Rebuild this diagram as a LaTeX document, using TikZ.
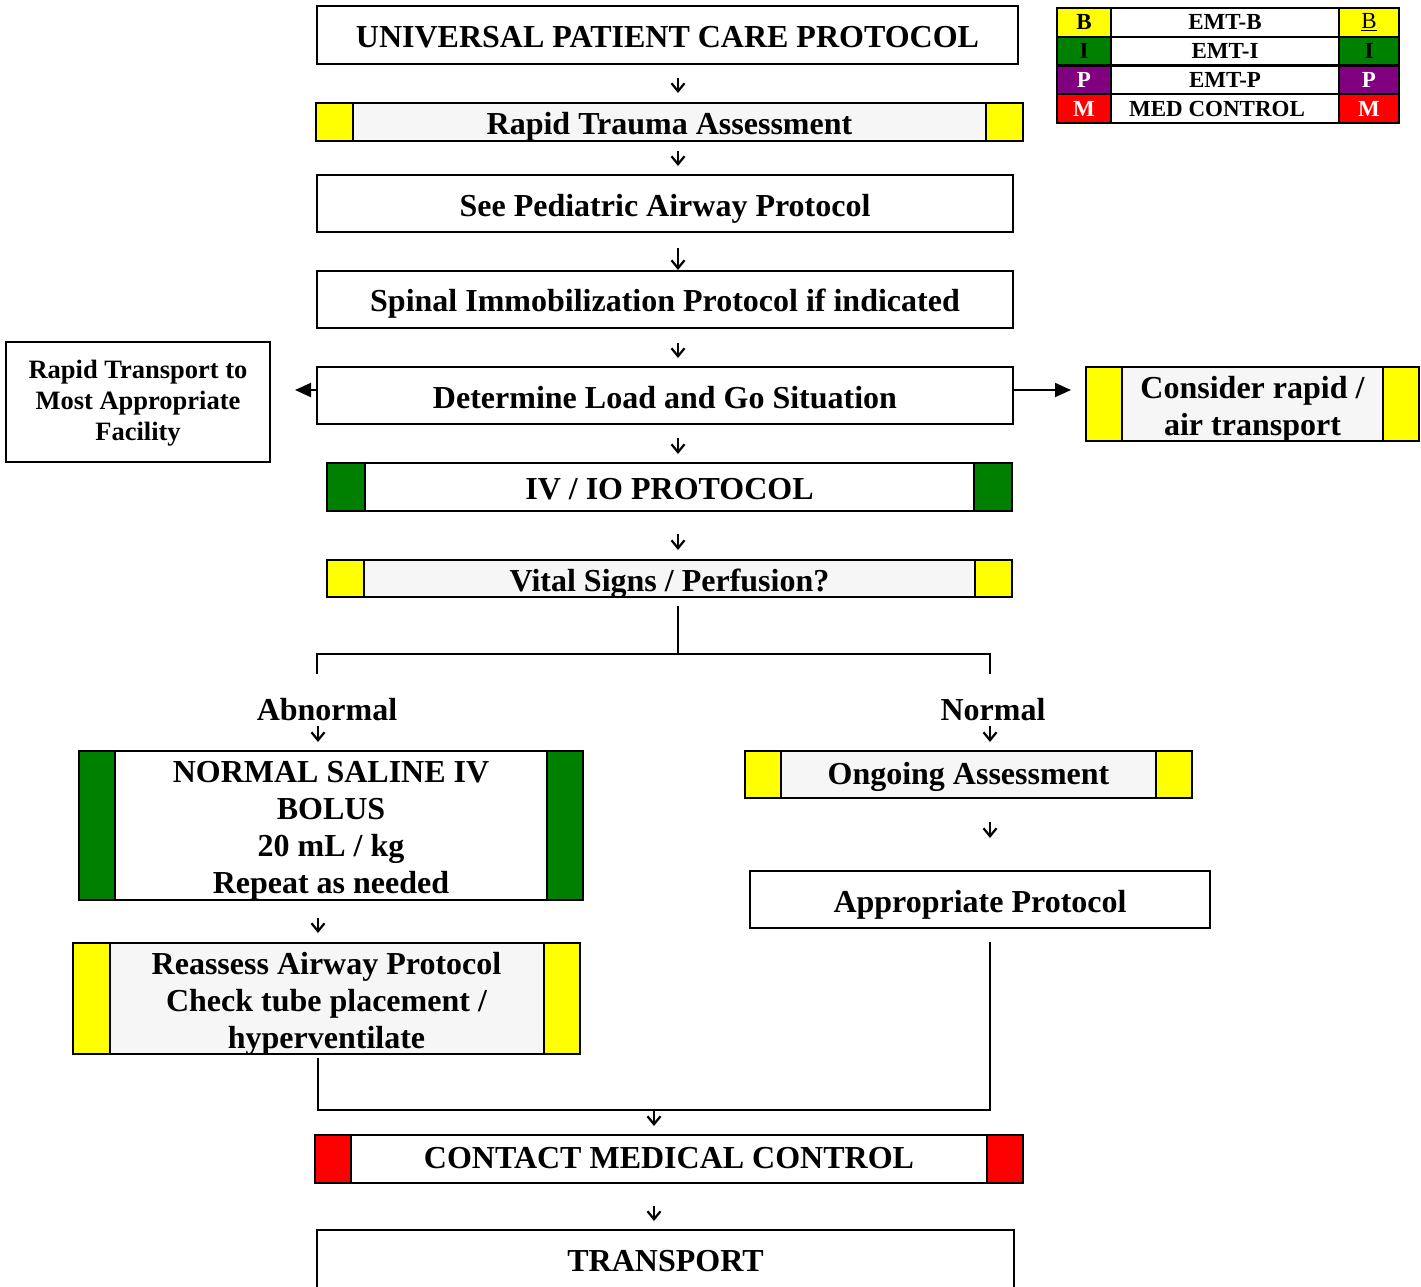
\documentclass[tikz,border=0pt]{standalone}
\usepackage{fontspec}
\setmainfont{Liberation Serif}
\usetikzlibrary{arrows.meta}
\definecolor{ylw}{RGB}{255,255,0}
\definecolor{grn}{RGB}{0,128,0}
\definecolor{prp}{RGB}{128,0,128}
\definecolor{rd}{RGB}{255,0,0}
\definecolor{lg}{RGB}{246,246,246}
\begin{document}
\begin{tikzpicture}[x=1pt,y=-1pt,
  box/.style={draw, line width=2pt, inner sep=0pt, align=center, font=\bfseries\fontsize{32}{37}\selectfont,
    text height=25pt, text depth=0pt},
  bands/.style 2 args={path picture={
    \fill[#1] (path picture bounding box.north west) rectangle ([xshift=#2]path picture bounding box.south west);
    \fill[#1] (path picture bounding box.north east) rectangle ([xshift=-#2]path picture bounding box.south east);
    \draw[line width=2pt] ([xshift=#2]path picture bounding box.north west) -- ([xshift=#2]path picture bounding box.south west);
    \draw[line width=2pt] ([xshift=-#2]path picture bounding box.north east) -- ([xshift=-#2]path picture bounding box.south east);
  }},
  lgcell/.style={draw, line width=2pt, inner sep=0pt, minimum height=28.75, font=\bfseries\fontsize{23}{26}\selectfont},
  lbl/.style={inner sep=0pt, font=\bfseries\fontsize{32}{37}\selectfont},
  darr/.style={line width=2pt, -{Straight Barb[length=8pt,width=13pt,line width=2.2pt]}},
  tarr/.style={line width=2pt, -{Triangle[length=16pt,width=14pt]}},
  plain/.style={line width=2pt}
]
\useasboundingbox (0,0) rectangle (1421,1287);

% main column
\node[box, minimum width=701, minimum height=58] (univ) at (667.5,35) {UNIVERSAL PATIENT CARE PROTOCOL};
\node[box, fill=lg, bands={ylw}{37}, minimum width=707, minimum height=38] (rta) at (669.5,122) {Rapid Trauma Assessment};
\node[box, minimum width=696, minimum height=57] (ped) at (665,203.5) {See Pediatric Airway Protocol};
\node[box, minimum width=696, minimum height=57, text height=24pt] (spinal) at (665,299.5) {Spinal Immobilization Protocol if indicated};
\node[box, minimum width=696, minimum height=57] (load) at (665,395.5) {Determine Load and Go Situation};
\node[box, line width=1.6pt, minimum width=264, minimum height=120, font=\bfseries\fontsize{26.5}{31}\selectfont,
  text height=76pt] (rapidT) at (138,402) {Rapid Transport to\\Most Appropriate\\Facility};
\node[box, fill=lg, bands={ylw}{36}, minimum width=333, minimum height=74, text height=62pt] (air) at (1252.5,404) {Consider rapid /\\air transport};
\node[box, bands={grn}{38}, minimum width=685, minimum height=48, text height=24pt] (iv) at (669.5,487) {IV / IO PROTOCOL};
\node[box, fill=lg, bands={ylw}{37}, minimum width=685, minimum height=37] (vital) at (669.5,578.5) {Vital Signs / Perfusion?};

\node[lbl] (abn) at (327,710) {Abnormal};
\node[lbl] (nor) at (993,710) {Normal};

\node[box, bands={grn}{36}, minimum width=504, minimum height=149, text height=135pt] (nsb) at (331,825.5) {NORMAL SALINE IV\\BOLUS\\20 mL / kg\\Repeat as needed};
\node[box, fill=lg, bands={ylw}{36}, minimum width=447, minimum height=47, text height=20pt] (ongo) at (968.5,774.5) {Ongoing Assessment};
\node[box, minimum width=460, minimum height=57] (approp) at (980,899.5) {Appropriate Protocol};
\node[box, fill=lg, bands={ylw}{36.5}, minimum width=507, minimum height=111, text height=99pt] (reas) at (326.5,998.5) {Reassess Airway Protocol\\Check tube placement /\\hyperventilate};
\node[box, bands={rd}{36}, minimum width=708, minimum height=48, text height=19pt] (cmc) at (669,1159) {CONTACT MEDICAL CONTROL};
\node[box, minimum width=697, minimum height=60, text height=23pt] (trans) at (665.5,1260) {TRANSPORT};

% legend
\foreach \i/\yy/\lt/\md/\rt/\cc/\tc in {1/22.4/B/EMT-B/\textmd{\underline{B}}/ylw/black, 2/51.1/I/EMT-I/I/grn/black, 3/79.9/P/EMT-P/P/prp/white, 4/108.6/M/MED CONTROL\hspace*{16pt}/M/rd/white}{
  \node[lgcell, fill=\cc, text=\tc, minimum width=54] (lgl\i) at (1084,\yy) {\lt};
  \node[lgcell, minimum width=228] (lgm\i) at (1225,\yy) {\md};
  \node[lgcell, fill=\cc, text=\tc, minimum width=60] (lgr\i) at (1369,\yy) {\rt};
}

% short downward arrows
\foreach \n/\xx/\ya/\yb in {1/678/78/93, 2/678/151/166, 4/678/343/358, 5/678/438/454, 6/678/534/550, 7/318/726/742, 8/990/726/742, 9/990/822/838, 10/318/918/933, 11/654/1111/1126, 12/654/1206/1221}{
  \coordinate (s\n) at (\xx,\ya);
  \coordinate (e\n) at (\xx,\yb);
  \draw[darr] (s\n) -- (e\n);
}
\coordinate (s3) at (678,248);
\draw[darr] (s3) -- (s3 |- spinal.north);

% side arrows
\coordinate (lt) at (295,390);
\coordinate (rt) at (1071,390);
\draw[tarr] (load.west |- lt) -- (lt);
\draw[tarr] (load.east |- rt) -- (rt);

% branch under vital signs
\coordinate (b0) at (678,606);
\coordinate (b1) at (678,654);
\coordinate (bl) at (317,654);
\coordinate (bl2) at (317,674);
\coordinate (brr) at (990,654);
\coordinate (brr2) at (990,674);
\draw[plain] (b0) -- (b1);
\draw[plain] (bl2) -- (bl) -- (brr) -- (brr2);

% merge to contact medical control
\coordinate (m0) at (318,1058);
\coordinate (m1) at (318,1110);
\coordinate (m2) at (990,1110);
\coordinate (m3) at (990,942);
\draw[plain] (m0) -- (m1) -- (m2) -- (m3);
\end{tikzpicture}
\end{document}
